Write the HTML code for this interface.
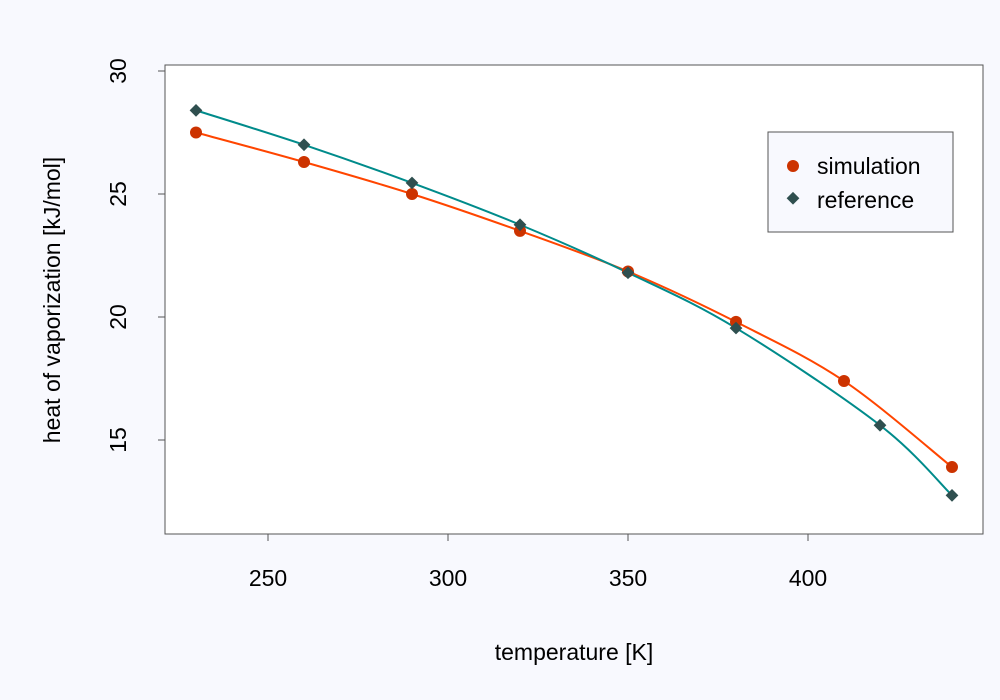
<!DOCTYPE html>
<html><head><meta charset="utf-8"><style>
body{margin:0;background:#f8f9fe;}
svg{display:block;font-family:"Liberation Sans",sans-serif;}
</style></head><body>
<svg id="chart" width="1000" height="700">
<rect x="0" y="0" width="1000" height="700" fill="#f8f9fe"/>
<rect x="165" y="65" width="818" height="469" fill="#ffffff" stroke="#555" stroke-width="1"/>
<g id="axes"></g>
<g id="series"></g>
<text x="574" y="660" font-size="23" text-anchor="middle" fill="#000">temperature [K]</text>
<text transform="translate(60,300) rotate(-90)" font-size="23" text-anchor="middle" fill="#000">heat of vaporization [kJ/mol]</text>
<g>
<rect x="768" y="132" width="185" height="100" fill="#f8f9fe" stroke="#555" stroke-width="1"/>
<circle cx="793" cy="166" r="6" fill="#cc3300"/>
<text x="817" y="174" font-size="23" fill="#000">simulation</text>
<rect x="788" y="194" width="9" height="9" transform="rotate(45 793 199)" fill="#2f4f4f"/>
<text x="817" y="208" font-size="23" fill="#000">reference</text>
</g>
</svg>
<script>
const simT=[230,260,290,320,350,380,410,440];
const simH=[27.5,26.3,25.0,23.5,21.85,19.8,17.4,13.9];
const refT=[230,260,290,320,350,380,420,440];
const refH=[28.4,27.0,25.45,23.75,21.8,19.55,15.6,12.75];
const xTicks=[250,300,350,400];
const yTicks=[15,20,25,30];
const NS="http://www.w3.org/2000/svg";
function xs(v){return 268+(v-250)*3.6;}
function ys(v){return 71+(30-v)*24.6;}
const axes=document.getElementById('axes'), ser=document.getElementById('series');
function mk(tag,attrs,parent){const e=document.createElementNS(NS,tag);for(const k in attrs)e.setAttribute(k,attrs[k]);parent.appendChild(e);return e;}
// x axis
let l=mk('line',{x1:xs(250),x2:xs(400),y1:534,y2:534,stroke:'#555'},axes);


xTicks.forEach(t=>{
 const tk=mk('line',{x1:xs(t),x2:xs(t),y1:534,y2:541,stroke:'#555'},axes);
 
 
 const tx=mk('text',{x:xs(t),y:586,'font-size':23,'text-anchor':'middle'},axes);
 tx.textContent=t;
 
 
});
l=mk('line',{x1:165,x2:165,y1:ys(15),y2:ys(30),stroke:'#555'},axes);


yTicks.forEach(t=>{
 const tk=mk('line',{x1:158,x2:165,y1:ys(t),y2:ys(t),stroke:'#555'},axes);
 
 
 const tx=mk('text',{transform:`translate(126,${ys(t)}) rotate(-90)`,'font-size':23,'text-anchor':'middle'},axes);
 tx.textContent=t;
 
 
});
function spline(T,H){
 const p=T.map((t,i)=>[xs(t),ys(H[i])]);
 let d=`M${p[0][0]},${p[0][1]}`;
 for(let i=0;i<p.length-1;i++){
  const p0=p[Math.max(i-1,0)],p1=p[i],p2=p[i+1],p3=p[Math.min(i+2,p.length-1)];
  const c1=[p1[0]+(p2[0]-p0[0])/6,p1[1]+(p2[1]-p0[1])/6];
  const c2=[p2[0]-(p3[0]-p1[0])/6,p2[1]-(p3[1]-p1[1])/6];
  d+=` C${c1[0]},${c1[1]} ${c2[0]},${c2[1]} ${p2[0]},${p2[1]}`;
 }
 return d;
}
let pa=mk('path',{d:spline(simT,simH),fill:'none',stroke:'#ff4500','stroke-width':2},ser);


pa=mk('path',{d:spline(refT,refH),fill:'none',stroke:'#008b8b','stroke-width':2},ser);


simT.forEach((t,i)=>{
 const c=mk('circle',{cx:xs(t),cy:ys(simH[i]),r:6,fill:'#cc3300'},ser);
 
 
});
refT.forEach((t,i)=>{
 const x=xs(t),y=ys(refH[i]);
 const r=mk('rect',{x:x-4.5,y:y-4.5,width:9,height:9,transform:`rotate(45 ${x} ${y})`,fill:'#2f4f4f'},ser);
 
 
});
</script>
</body></html>
